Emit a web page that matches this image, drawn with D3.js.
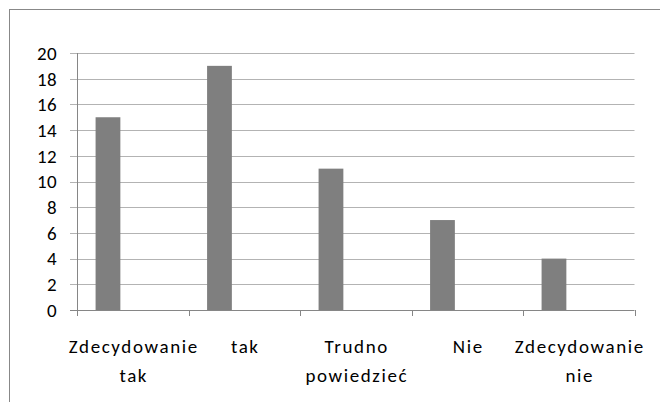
<!DOCTYPE html>
<html><head><meta charset="utf-8">
<script src="https://cdn.jsdelivr.net/npm/d3@7"></script>
<style>body{margin:0;background:#fff}svg{display:block}text{font-family:Carlito,Lato,"Liberation Sans",sans-serif;fill:#000}</style>
</head><body>
<svg id="c" width="660" height="402"></svg>
<script>
const categories = [["Zdecydowanie","tak"],["tak"],["Trudno","powiedzieć"],["Nie"],["Zdecydowanie","nie"]];
const series = ["S1","S2","S3"];
const values = [15, 19, 11, 7, 4];
const yTicks = [0,2,4,6,8,10,12,14,16,18,20];

const svg = d3.select("#c");
const L = 77, R = 634.5, T = 53, B = 310;
const keys = categories.map(c => c.join(" "));
const x = d3.scaleBand().domain(keys).range([L, R]).paddingInner(0).paddingOuter(0);
const xs = d3.scaleBand().domain(series).range([0, x.bandwidth()]).paddingInner(0).paddingOuter(0.75);
const y = d3.scaleLinear().domain([0, 20]).range([B, T]);

// outer border
svg.append("rect").attr("x", 9.5).attr("y", 9.5).attr("width", 700).attr("height", 500)
  .attr("fill", "none").attr("stroke", "#888").attr("stroke-width", 1);

// gridlines + y tick marks
svg.append("g").selectAll("line").data(yTicks).join("line")
  .attr("x1", 70).attr("x2", R).attr("y1", d => Math.round(y(d)) + 0.5).attr("y2", d => Math.round(y(d)) + 0.5)
  .attr("stroke", d => d === 0 ? "#868686" : "#b3b3b3").attr("stroke-width", 1);

// y labels
svg.append("g").selectAll("text").data(yTicks).join("text")
  .attr("x", 57).attr("y", d => y(d)).attr("dy", "0.36em").attr("text-anchor", "end")
  .attr("font-size", 19).attr("letter-spacing", 0.4).text(d => d);

// y axis line
svg.append("line").attr("x1", L + 0.5).attr("x2", L + 0.5).attr("y1", T).attr("y2", B + 6)
  .attr("stroke", "#868686");

// category ticks
const bounds = keys.map(k => x(k) + x.bandwidth());
svg.append("g").selectAll("line").data(bounds).join("line")
  .attr("x1", d => Math.round(d) + 0.5).attr("x2", d => Math.round(d) + 0.5)
  .attr("y1", B).attr("y2", B + 6).attr("stroke", "#868686");

// bars (first series)
svg.append("g").selectAll("rect").data(values).join("rect")
  .attr("x", (d, i) => x(keys[i]) + xs("S1"))
  .attr("width", xs.bandwidth())
  .attr("y", d => y(d)).attr("height", d => B - y(d))
  .attr("fill", "#7f7f7f");

// category labels
const lg = svg.append("g").selectAll("text").data(categories).join("text")
  .attr("text-anchor", "middle").attr("font-size", 19).attr("letter-spacing", 1.6)
  .attr("transform", (d, i) => `translate(${x(keys[i]) + x.bandwidth() / 2 + 1},353)`);
lg.selectAll("tspan").data(d => d).join("tspan")
  .attr("x", 0).attr("y", (d, j) => j * 29).text(d => d);
</script>
</body></html>
